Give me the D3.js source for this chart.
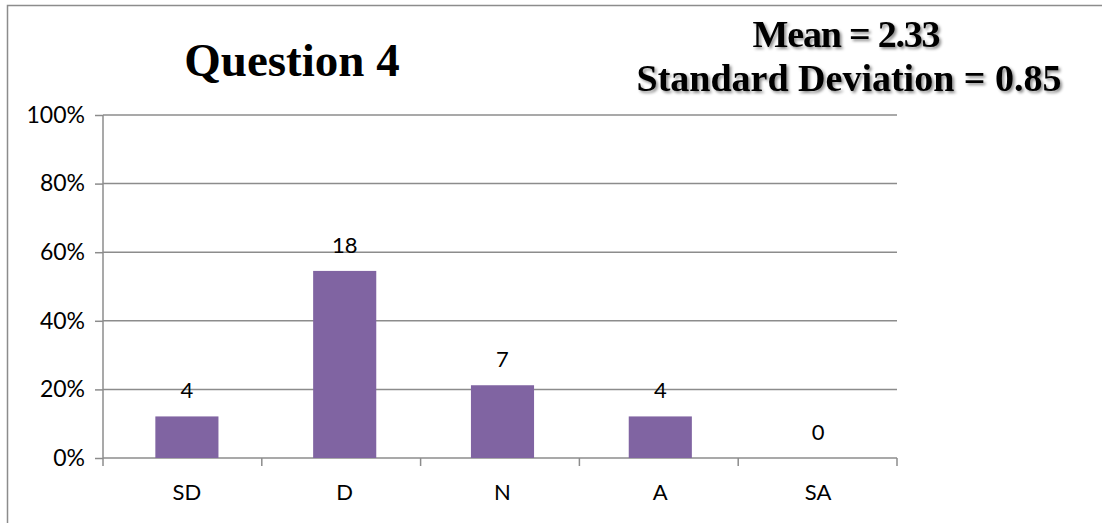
<!DOCTYPE html>
<html>
<head>
<meta charset="utf-8">
<script src="https://cdn.jsdelivr.net/npm/d3@7"></script>
<style>
  html, body { margin: 0; padding: 0; background: #fff; }
  svg { display: block; }
</style>
</head>
<body>
<svg id="chart" width="1102" height="523"></svg>
<script>
// Responses to question 4 on a five-point agreement scale
const categories = ["SD", "D", "N", "A", "SA"];
const counts = [4, 18, 7, 4, 0];
const yTicks = [0, 0.2, 0.4, 0.6, 0.8, 1.0];
const title = "Question 4";
const statLines = ["Mean = 2.33", "Standard Deviation = 0.85"];

const total = d3.sum(counts);
const shares = counts.map(c => c / total);

const svg = d3.select("#chart");
const W = 1102, H = 523;
const plot = { left: 108, right: 897, top: 115, bottom: 458 };
const sans = "Lato, 'Open Sans', sans-serif";
const serif = "'Liberation Serif', 'Times New Roman', serif";

const defs = svg.append("defs");
const shadow = defs.append("filter").attr("id", "txtShadow")
  .attr("x", "-10%").attr("y", "-30%").attr("width", "130%").attr("height", "170%");
shadow.append("feDropShadow")
  .attr("dx", 2).attr("dy", 2).attr("stdDeviation", 1.6)
  .attr("flood-color", "#000").attr("flood-opacity", 0.45);

// outer frame (left and top edges)
svg.append("path")
  .attr("d", `M7.5,${H} V5.5 H${W}`)
  .attr("fill", "none").attr("stroke", "#8c8c8c").attr("stroke-width", 1.5);

const x = d3.scaleBand().domain(categories)
  .range([plot.left, plot.right]).paddingInner(0.6).paddingOuter(0.3);
const y = d3.scaleLinear().domain([0, 1]).range([plot.bottom, plot.top]);

// horizontal gridlines
svg.append("g").selectAll("line").data(yTicks.filter(t => t > 0)).join("line")
  .attr("x1", plot.left - 5).attr("x2", plot.right)
  .attr("y1", d => y(d)).attr("y2", d => y(d))
  .attr("stroke", "#8c8c8c").attr("stroke-width", 1.5);

// y axis
const yAxis = svg.append("g").attr("transform", `translate(${plot.left - 5},0)`)
  .call(d3.axisLeft(y).tickValues(yTicks).tickFormat(d3.format(".0%")).tickSize(8).tickPadding(10));
yAxis.select(".domain").attr("stroke", "#8c8c8c").attr("stroke-width", 1.5)
  .attr("d", `M0,${plot.top}V${plot.bottom}`);
yAxis.selectAll(".tick line").attr("stroke", "#8c8c8c").attr("stroke-width", 1.5);
yAxis.selectAll(".tick text")
  .attr("font-family", sans).attr("font-size", 23).attr("fill", "#000");

// x axis with ticks between categories
const xAxisG = svg.append("g");
xAxisG.append("line")
  .attr("x1", plot.left - 5).attr("x2", plot.right)
  .attr("y1", plot.bottom).attr("y2", plot.bottom)
  .attr("stroke", "#8c8c8c").attr("stroke-width", 1.5);
const boundaries = d3.range(categories.length + 1)
  .map(i => plot.left - 5 + i * (plot.right - plot.left + 5) / categories.length);
xAxisG.selectAll("line.tk").data(boundaries).join("line").attr("class", "tk")
  .attr("x1", d => d).attr("x2", d => d)
  .attr("y1", plot.bottom).attr("y2", plot.bottom + 8)
  .attr("stroke", "#8c8c8c").attr("stroke-width", 1.5);
xAxisG.selectAll("text").data(categories).join("text")
  .attr("x", d => x(d) + x.bandwidth() / 2).attr("y", plot.bottom + 42)
  .attr("text-anchor", "middle")
  .attr("font-family", sans).attr("font-size", 22).attr("fill", "#000")
  .text(d => d);

// bars
svg.append("g").selectAll("rect").data(categories).join("rect")
  .attr("x", d => x(d)).attr("width", x.bandwidth())
  .attr("y", (d, i) => y(shares[i]))
  .attr("height", (d, i) => y(0) - y(shares[i]))
  .attr("fill", "#8064a2");

// count labels
svg.append("g").selectAll("text").data(categories).join("text")
  .attr("x", d => x(d) + x.bandwidth() / 2)
  .attr("y", (d, i) => y(shares[i]) - 18)
  .attr("text-anchor", "middle")
  .attr("font-family", sans).attr("font-size", 22).attr("fill", "#000")
  .text((d, i) => counts[i]);

// title
svg.append("text")
  .attr("x", 292).attr("y", 76).attr("text-anchor", "middle")
  .attr("font-family", serif)
  .attr("font-weight", "bold").attr("font-size", 47).attr("fill", "#000")
  .text(title);

// summary statistics
svg.append("g").attr("filter", "url(#txtShadow)").selectAll("text").data(statLines).join("text")
  .attr("x", (d, i) => i === 0 ? 846 : 849).attr("y", (d, i) => 47 + i * 44).attr("text-anchor", "middle")
  .attr("font-family", serif)
  .attr("font-weight", "bold").attr("font-size", 38)
  .attr("letter-spacing", (d, i) => i === 0 ? -1.2 : 0)
  .attr("fill", "#000")
  .text(d => d);
</script>
</body>
</html>
